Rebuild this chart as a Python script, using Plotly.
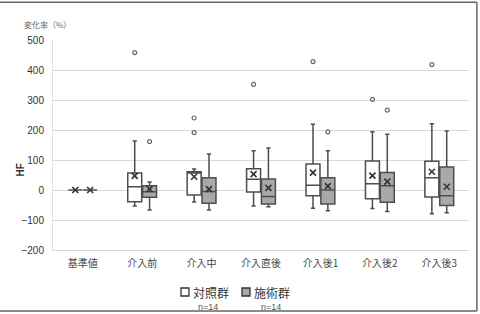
import plotly.graph_objects as go

categories = ['基準値', '介入前', '介入中', '介入直後', '介入後1', '介入後2', '介入後3']
series_names = ['対照群', '施術群']
group_sizes = ['n=14', 'n=14']

# 対照群 (control)
ctrl_q1 = [0, -39, -17, -7, -19, -29, -23]
ctrl_med = [0, 11, 57, 36, 16, 21, 41]
ctrl_q3 = [0, 57, 61, 71, 87, 97, 96]
ctrl_lo = [0, -53, -40, -53, -61, -62, -79]
ctrl_hi = [0, 163, 70, 131, 219, 194, 221]
ctrl_mean = [0, 47, 44, 53, 58, 48, 61]
ctrl_out_cat = [1, 2, 2, 3, 4, 5, 6]
ctrl_out_val = [458, 240, 191, 352, 428, 302, 418]

# 施術群 (treatment)
trt_q1 = [0, -24, -44, -47, -47, -41, -52]
trt_med = [0, -6, -5, -22, 0, 14, -19]
trt_q3 = [0, 14, 41, 37, 41, 58, 77]
trt_lo = [0, -67, -67, -56, -69, -72, -76]
trt_hi = [0, 27, 120, 140, 131, 186, 197]
trt_mean = [0, 3, 3, 7, 13, 28, 11]
trt_out_cat = [1, 4, 5]
trt_out_val = [161, 194, 266]

y_ticks = [-200, -100, 0, 100, 200, 300, 400, 500]

OFF = 0.125
BW = 0.235
LINE = '#4d4d4d'
FILLS = ['white', '#a9a9a9']
FONT_JP = 'Noto Sans CJK JP'

n = len(categories)
ctrl_x = [i - OFF for i in range(n)]
trt_x = [i + OFF for i in range(n)]

fig = go.Figure()

fig.add_trace(go.Box(
    name=series_names[0], x=ctrl_x, q1=ctrl_q1, median=ctrl_med, q3=ctrl_q3,
    lowerfence=ctrl_lo, upperfence=ctrl_hi, width=BW, boxpoints=False,
    fillcolor=FILLS[0], line=dict(color=LINE, width=1.5), whiskerwidth=0.3,
    hoverinfo='skip', showlegend=False))
fig.add_trace(go.Box(
    name=series_names[1], x=trt_x, q1=trt_q1, median=trt_med, q3=trt_q3,
    lowerfence=trt_lo, upperfence=trt_hi, width=BW, boxpoints=False,
    fillcolor=FILLS[1], line=dict(color=LINE, width=1.5), whiskerwidth=0.3,
    hoverinfo='skip', showlegend=False))

# means
fig.add_trace(go.Scatter(x=ctrl_x, y=ctrl_mean, mode='markers', showlegend=False,
                         marker=dict(symbol='x-thin', size=6, line=dict(color='#333', width=1.6))))
fig.add_trace(go.Scatter(x=trt_x, y=trt_mean, mode='markers', showlegend=False,
                         marker=dict(symbol='x-thin', size=6, line=dict(color='#333', width=1.6))))

# outliers
fig.add_trace(go.Scatter(x=[c - OFF for c in ctrl_out_cat], y=ctrl_out_val, mode='markers',
                         showlegend=False,
                         marker=dict(symbol='circle-open', size=4, color='#666', line=dict(width=1.2))))
fig.add_trace(go.Scatter(x=[c + OFF for c in trt_out_cat], y=trt_out_val, mode='markers',
                         showlegend=False,
                         marker=dict(symbol='circle-open', size=4, color='#666', line=dict(width=1.2))))

fig.update_layout(
    width=480, height=314,
    margin=dict(l=53, r=11, t=40, b=64, autoexpand=False),
    paper_bgcolor='white', plot_bgcolor='white',
    showlegend=False,
    xaxis=dict(range=[-0.5, n - 0.5], tickvals=list(range(n)), ticktext=categories,
               showgrid=False, zeroline=False, showline=True, linecolor='#d9d9d9',
               ticks='', ticklabelstandoff=4,
               tickfont=dict(family=FONT_JP, size=10, color='#444')),
    yaxis=dict(range=[-200, 500], tickvals=y_ticks, showgrid=True, gridcolor='#d9d9d9',
               zeroline=False, showline=True, linecolor='#e3e3e3', ticks='',
               ticklabelstandoff=6,
               tickfont=dict(family='Liberation Sans', size=10, color='#333')),
    font=dict(family=FONT_JP),
)

fig.add_annotation(text='変化率（%）', xref='paper', yref='paper', x=-0.075, y=1.076,
                   xanchor='left', yanchor='middle', showarrow=False,
                   font=dict(family=FONT_JP, size=8, color='#666'))
fig.add_annotation(text='<b>HF</b>', xref='paper', yref='paper', x=-0.094, y=0.381,
                   textangle=-90, showarrow=False,
                   font=dict(family='Liberation Sans', size=10, color='#333'))

# custom legend: squares + names + n
sq_x = [0.3077, 0.4543]
txt_x = [0.3317, 0.4784]
n_x = [0.3726, 0.524]
for i in range(2):
    fig.add_shape(type='rect', xref='paper', yref='paper', x0=sq_x[i], x1=sq_x[i] + 0.0192,
                  y0=-0.219, y1=-0.181, fillcolor=FILLS[i], line=dict(color='#333', width=1.3))
    fig.add_annotation(text=series_names[i], xref='paper', yref='paper', x=txt_x[i], y=-0.2,
                       xanchor='left', yanchor='middle', showarrow=False,
                       font=dict(family=FONT_JP, size=12, color='#333'))
    fig.add_annotation(text=group_sizes[i], xref='paper', yref='paper', x=n_x[i], y=-0.273,
                       yanchor='middle', showarrow=False,
                       font=dict(family='Liberation Sans', size=9, color='#555'))

# outer frame (top, right, bottom)
fr = dict(color='#666', width=1.5)
fig.add_shape(type='line', xref='paper', yref='paper', x0=-0.13, x1=1.019, y0=1.18, y1=1.18, line=fr)
fig.add_shape(type='line', xref='paper', yref='paper', x0=1.019, x1=1.019, y0=1.18, y1=-0.29, line=fr)
fig.add_shape(type='line', xref='paper', yref='paper', x0=-0.13, x1=1.019, y0=-0.29, y1=-0.29, line=fr)

fig.write_html('out.html')
